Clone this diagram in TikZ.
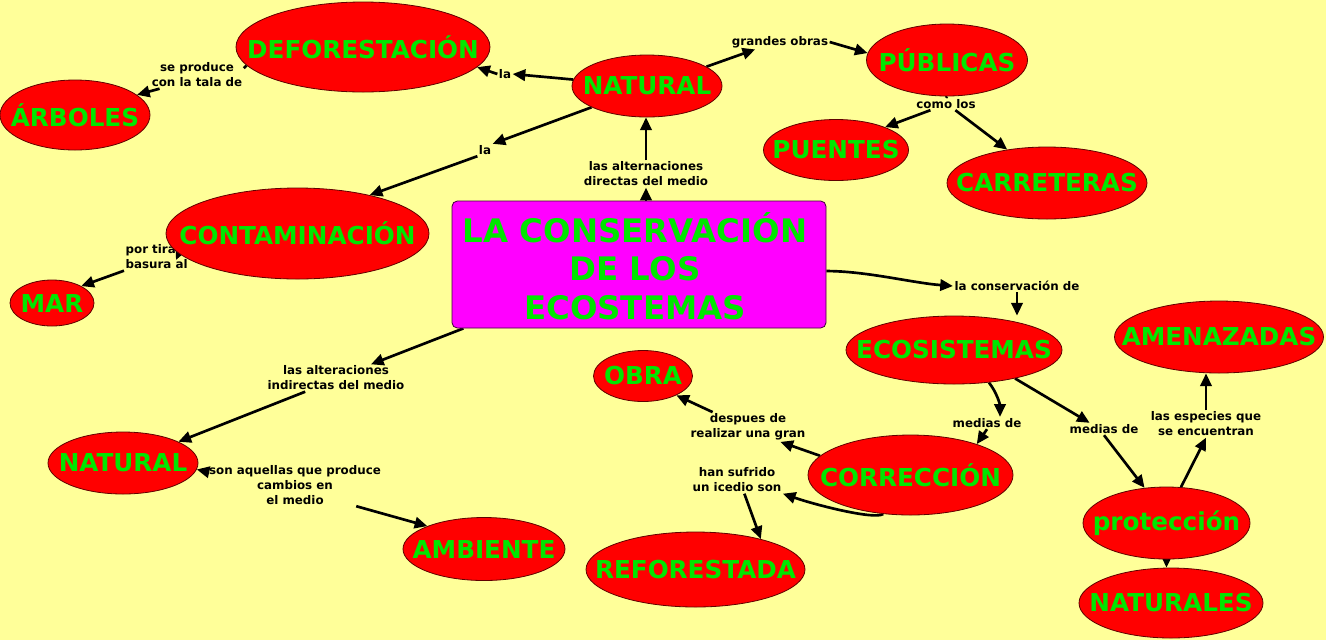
\documentclass[tikz,border=0pt]{standalone}
\usepackage{fontspec}
\setmainfont{DejaVu Sans}
\usetikzlibrary{shapes.geometric,arrows.meta,calc}
\pgfdeclarelayer{bg}
\pgfdeclarelayer{edges}
\pgfsetlayers{bg,edges,main}
\definecolor{bgyel}{HTML}{FFFF99}
\definecolor{cred}{HTML}{FF0000}
\definecolor{cgreen}{HTML}{00E600}
\definecolor{cmag}{HTML}{FF00FF}
\definecolor{cborder}{HTML}{600000}
\definecolor{boxborder}{HTML}{400040}
\tikzset{
  concept/.style={ellipse, draw=cborder, fill=cred, line width=0.6pt, inner sep=0pt},
  ctext/.style={text=cgreen, font=\bfseries\fontsize{18.5}{21}\selectfont, inner sep=0pt},
  lbl/.style={font=\bfseries\fontsize{8.9}{11.25}\selectfont, align=center, inner sep=1pt, text=black},
  conn/.style={line width=2pt, -{Triangle[length=9.5pt,width=8.5pt]}},
  plainconn/.style={line width=2pt},
  titlebox/.style={rectangle, rounded corners=4pt, fill=cmag, draw=boxborder, line width=0.6pt,
    minimum width=280.5pt, minimum height=95.25pt, inner sep=0pt},
  titletext/.style={font=\bfseries\fontsize{24.3}{29}\selectfont, text=cgreen, align=center, inner sep=0pt}
}
\newcommand\conceptnode[6]{\node[concept, minimum width=#1, minimum height=#2,
  label={[ctext]center:#5}] (#3) at (#4) {};}
\begin{document}
\begin{tikzpicture}[x=0.75pt,y=-0.75pt]
\useasboundingbox (0,0) rectangle (1326,640);
\begin{pgfonlayer}{bg}
\fill[bgyel] (0,0) rectangle (1326,640);
\end{pgfonlayer}

% labels (drawn before concepts so concepts may cover them)
\node[lbl] (lsep) at (197,75) {se produce\\con la tala de};
\node[lbl] (lla1) at (505,74) {la};
\node[lbl] (lla2) at (485,150) {la};
\node[lbl] (lgra) at (780,42) {grandes obras};
\node[lbl] (lcomo) at (946,104) {como los};
\node[lbl] (ldir) at (646,174) {las alternaciones\\directas del medio};
\node[lbl, align=left, anchor=west] (lpor) at (124,257) {por tirar\\basura al};
\node[lbl] (lcons) at (1017,286) {la conservación de};
\node[lbl] (lmed1) at (987,423) {medias de};
\node[lbl] (lmed2) at (1104,429) {medias de};
\node[lbl] (lesp) at (1206,424) {las especies que\\se encuentran};
\node[lbl] (ldesp) at (748,427) {despues de\\realizar una gran};
\node[lbl] (lhan) at (737,480) {han sufrido\\un icedio son};
\node[lbl] (lalt) at (336,378) {las alteraciones\\indirectas del medio};
\node[lbl] (lson) at (295,485) {son aquellas que produce\\cambios en\\el medio};

% concepts
\conceptnode{190.5pt}{67.5pt}{defo}{363,47}{DEFORESTACIÓN}{}
\conceptnode{112.5pt}{52.5pt}{arbo}{75,115}{ÁRBOLES}{}
\conceptnode{112.5pt}{46.5pt}{nat1}{647,86}{NATURAL}{}
\conceptnode{120.75pt}{54pt}{publ}{947,60}{PÚBLICAS}{}
\conceptnode{108.75pt}{45.75pt}{puen}{836,150}{PUENTES}{}
\conceptnode{150pt}{54pt}{carr}{1047,183}{CARRETERAS}{}
\conceptnode{197.25pt}{68.25pt}{conta}{297.5,233.5}{CONTAMINACIÓN}{}
\conceptnode{63pt}{34.5pt}{mar}{52,303}{MAR}{}
\conceptnode{162pt}{51pt}{ecos}{954,350}{ECOSISTEMAS}{}
\conceptnode{156.75pt}{54pt}{amen}{1219,337}{AMENAZADAS}{}
\conceptnode{74.25pt}{38.25pt}{obra}{643,376}{OBRA}{}
\conceptnode{153.75pt}{60pt}{corr}{910.5,475}{CORRECCIÓN}{}
\conceptnode{164.25pt}{56.25pt}{refo}{695.5,569.5}{REFORESTADA}{}
\conceptnode{125.25pt}{54pt}{prot}{1166.5,523}{protección}{}
\conceptnode{138pt}{52.5pt}{natus}{1171,603}{NATURALES}{}
\conceptnode{112.5pt}{46.5pt}{nat2}{123,463}{NATURAL}{}
\conceptnode{121.5pt}{47.25pt}{ambi}{484,549}{AMBIENTE}{}

\node[titlebox] (box) at (639,264.5) {};
\node[titletext] (boxt) at (635,266) {LA CONSERVACIÓN\\DE LOS\\ECOSTEMAS};

\coordinate (porTip) at (176,260);

\begin{pgfonlayer}{edges}
\draw[plainconn] (defo.189) -- ($(lsep.east)!0.5!(lsep.north east)$);
\draw[conn] ($(lsep.south west)!0.1!(lsep.south east)$) -- (arbo.18);
\draw[conn] (nat1.175) -- (lla1.east);
\draw[conn] (lla1.west) -- (defo.-10);
\draw[conn] (nat1.201) -- (lla2.north east);
\draw[conn] (lla2.south west) -- (conta.28);
\draw[conn] (nat1.18) -- ($(lgra.south west)!0.25!(lgra.south east)$);
\draw[conn] (lgra.east) -- (publ.175);
\draw[plainconn] (publ.south) -- (lcomo.north);
\draw[conn] ($(lcomo.south west)!0.25!(lcomo.south east)$) -- (puen.25);
\draw[conn] ($(lcomo.south west)!0.65!(lcomo.south east)$) -- (carr.140);
\draw[conn] (ldir.south |- box.north) -- (ldir.south);
\draw[conn] (ldir.north) -- (ldir.north |- nat1.south);
\draw[conn] ($(conta.west)+(22,0)$) -- (porTip);
\draw[conn] (lpor.south west) -- (mar.30);
\draw[conn] (box.-2) .. controls +(40,0) and +(-40,-3) .. (lcons.west);
\draw[conn] (lcons.south) -- (lcons.south |- ecos.north);
\draw[conn] (ecos.-43) .. controls +(8,10) and +(0,-12) .. ($(lmed1.north)+(13,0)$);
\draw[conn] (lmed1.south) -- (corr.25);
\draw[conn] (ecos.-25) -- ($(lmed2.north west)!0.3!(lmed2.north east)$);
\draw[conn] (lmed2.south) -- (prot.122);
\draw[conn] (prot.68) -- (lesp.south);
\draw[conn] (lesp.north) -- (lesp.north |- amen.south);
\draw[conn] (prot.south) -- (prot.south |- natus.north);
\draw[conn] (corr.168) -- ($(ldesp.south)!0.55!(ldesp.south east)$);
\draw[conn] ($(ldesp.north west)!0.2!(ldesp.north east)$) -- (obra.-30);
\draw[conn] (corr.-125) .. controls +(-8,6) and +(35,12) .. (lhan.south east);
\draw[conn] ($(lhan.south)!0.16!(lhan.south east)$) -- (refo.25);
\draw[conn] (box.200) -- ($(lalt.north)!0.5!(lalt.north east)$);
\draw[conn] ($(lalt.south west)!0.28!(lalt.south east)$) -- (nat2.21);
\draw[conn] ($(lson.north west)+(0,8)$) -- (nat2.-5);
\draw[conn] ($(lson.south)!0.7!(lson.south east)$) -- (ambi.158);
\end{pgfonlayer}
\end{tikzpicture}
\end{document}
